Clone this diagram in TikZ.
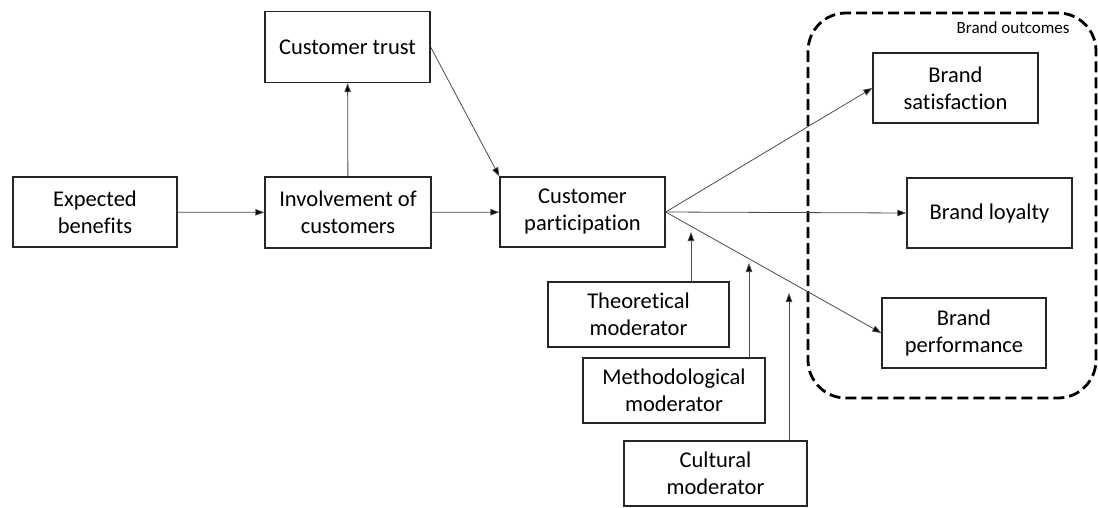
\documentclass[tikz,border=0pt]{standalone}
\usepackage{fontspec}
\setmainfont{Carlito}[Ligatures=NoCommon]
\usetikzlibrary{arrows.meta}
\begin{document}
\begin{tikzpicture}[x=1pt,y=-1pt,
  box/.style={draw=black!85,line width=1.3pt,align=center,inner sep=0pt,
    font=\fontsize{22.5}{27}\selectfont,minimum height=70pt},
  modbox/.style={box,minimum height=65pt},
  arr/.style={draw=black!70,line width=0.8pt,
    -{Triangle[length=9pt,width=6.5pt,fill=black]}},
  group/.style={draw=black,line width=2.8pt,dash pattern=on 11pt off 5pt,
    rounded corners=38pt}]
\useasboundingbox (0,0) rectangle (1098,507);
% brand outcome group
\draw[group] (808,13) rectangle (1096,398);
\node[anchor=east,font=\fontsize{17}{20}\selectfont] (grp) at (1073,28) {Brand outcomes};
% antecedents
\node[box,minimum width=164pt] (exp) at (95,212) {Expected\\benefits};
\node[box,minimum width=166pt,minimum height=71pt] (inv) at (348,212.5) {Involvement of\\customers};
\node[box,minimum width=165pt,minimum height=71pt] (trust) at (347.5,47) {Customer trust};
\node[box,minimum width=165pt] (part) at (582.5,212) {Customer\\participation};
% outcomes
\node[box,minimum width=165pt] (sat) at (955.5,88) {Brand\\satisfaction};
\node[box,minimum width=165pt] (loy) at (989.5,213) {Brand loyalty};
\node[box,minimum width=164pt] (perf) at (964,333) {Brand\\performance};
% moderators
\node[modbox,minimum width=181pt] (theo) at (638.5,314.5) {Theoretical\\moderator};
\node[modbox,minimum width=182pt] (meth) at (674,390.5) {Methodological\\moderator};
\node[modbox,minimum width=183pt] (cult) at (715.5,473.5) {Cultural\\moderator};
% main paths
\draw[arr] (exp) -- (inv);
\draw[arr] (inv) -- (trust);
\draw[arr] (inv) -- (part);
\draw[arr] (trust.east) -- (part.north west);
\draw[arr] (part.east) -- (sat.west);
\draw[arr] (part.east) -- (loy.west);
\draw[arr] (part.east) -- (perf.west);
% moderating effects
\coordinate (mt) at (691,232);
\coordinate (mm) at (749,263);
\coordinate (mc) at (789,293);
\draw[arr] (theo.north -| mt) -- (mt);
\draw[arr] (meth.north -| mm) -- (mm);
\draw[arr] (cult.north -| mc) -- (mc);
\end{tikzpicture}
\end{document}
